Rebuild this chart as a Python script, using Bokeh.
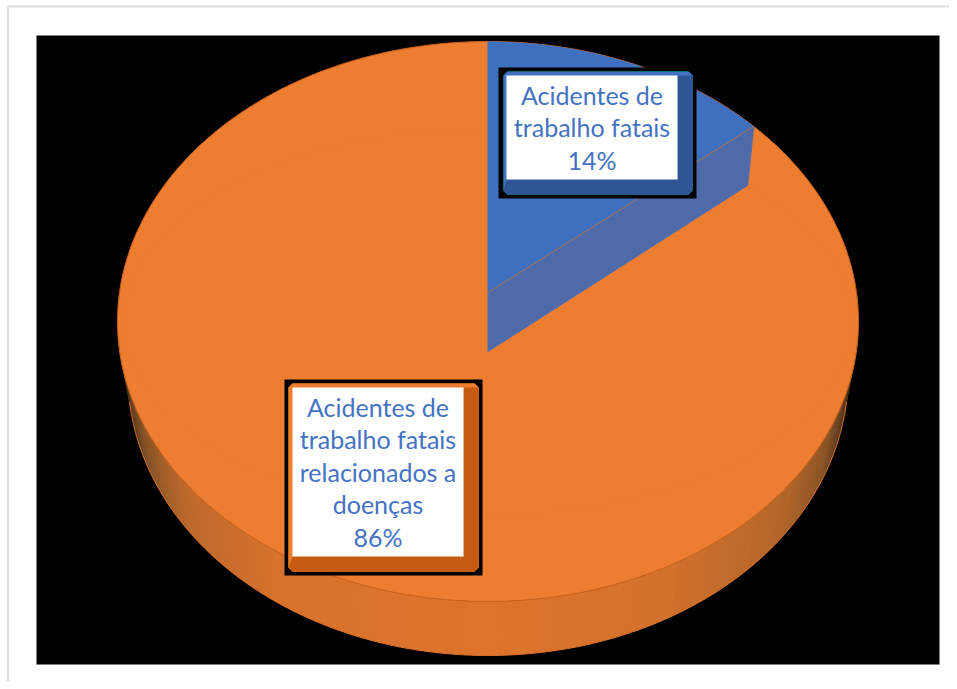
import numpy as np
from bokeh.plotting import figure
from bokeh.models import Range1d
from bokeh.core.properties import value
from bokeh.embed import file_html
from bokeh.resources import INLINE

# ---- data ----
categories = ["Acidentes de trabalho fatais", "Acidentes de trabalho fatais relacionados a doenças"]
values = [14, 86]
label_lines = [["Acidentes de", "trabalho fatais"],
               ["Acidentes de", "trabalho fatais", "relacionados a", "doenças"]]

# ---- layout (picture pixels) ----
W, H = 949, 681
OX, OY = 0, 0
CX, CY, RX, RY = 487.5, 321.0, 370.5, 280.0
BCY, BRX, BRY = 375.0, 360.0, 280.0
APEX_UP = 29.0
WALL = 59.0
FONT = "Lato"
FS = "25px"
LINE = 32.4
ORANGE, BLUE = "#ed7d31", "#4472c4"

p = figure(width=W, height=H, output_backend="svg", toolbar_location=None,
           x_range=Range1d(OX, OX + W), y_range=Range1d(OY + H, OY),
           min_border=0, outline_line_color=None, background_fill_color="white",
           border_fill_color="white")
p.axis.visible = False
p.grid.visible = False

# page border and black background
p.line([7.5, 7.5], [OY + H, 6], line_color="#dddddd", line_width=2)
p.line([7, OX + W], [6, 6], line_color="#dddddd", line_width=2)
p.quad(left=36, right=939, top=35, bottom=664, fill_color="black", line_color=None)

# side band of the pie, shaded by angle
ts = np.linspace(np.pi * 0.03, np.pi * 0.97, 111)  # 0 = right, pi = left, going below
step = ts[1] - ts[0]
stops_t = np.array([.03, .08, .13, .2, .33, .5, .7, .81, .89, .93, .97]) * np.pi
stops_c = np.array([[70, 48, 25], [90, 58, 30], [140, 85, 38], [178, 102, 42], [208, 113, 44], [224, 117, 45],
                    [214, 114, 44], [188, 105, 44], [130, 82, 38], [90, 60, 30], [70, 48, 25]])
for a in ts[:-1]:
    b = min(a + step * 1.6, ts[-1])  # overlap so that no seams show
    m = a + step / 2
    c = "#%02x%02x%02x" % tuple(int(np.interp(m, stops_t, stops_c[:, i])) for i in range(3))
    xs = [CX + RX * np.cos(a), CX + RX * np.cos(b), CX + BRX * np.cos(b), CX + BRX * np.cos(a)]
    ys = [CY + RY * np.sin(a), CY + RY * np.sin(b), BCY + BRY * np.sin(b), BCY + BRY * np.sin(a)]
    p.patch(xs, ys, fill_color=c, line_color=None)
rim = np.linspace(np.pi * 0.03, np.pi * 0.97, 181)
p.line(CX + BRX * np.cos(rim), BCY + BRY * np.sin(rim), line_color="#d9702a", line_width=1)

# orange top face
tt = np.linspace(0, 2 * np.pi, 361)
p.patch(CX + RX * np.cos(tt), CY + RY * np.sin(tt), fill_color=ORANGE, line_color="#c9611c", line_width=1)
# faint inner ring
p.line(CX + RX * .982 * np.cos(tt), CY + 193 * np.sin(tt), line_color="#ea7b30", line_width=1)

# blue slice: angle from the share of the total; apex lifted (exploded slice)
share = values[0] / sum(values)
th = 2 * np.pi * share
off = APEX_UP / RY
s_end = -off * np.cos(th) + np.sqrt((off * np.cos(th)) ** 2 + 1 - off ** 2)
ux, uy = s_end * np.sin(th), -off - s_end * np.cos(th)
end_t = np.arctan2(ux, -uy)
arc = np.linspace(0, end_t, 60)
ax = CX + RX * np.sin(arc)
ay = CY - RY * np.cos(arc)
apex_x, apex_y = CX, CY - APEX_UP
end_x, end_y = ax[-1], ay[-1]

# inner wall
p.patch([apex_x, end_x, end_x - 6, apex_x], [apex_y, end_y, end_y + WALL, apex_y + WALL],
        fill_color="#4f6aa8", line_color="#4a70b8", line_width=1)
# top of slice
p.patch(np.r_[apex_x, ax], np.r_[apex_y, ay], fill_color="#3f70c0", line_color=None)
p.line([apex_x, end_x], [apex_y, end_y], line_color="#a8734e", line_width=1)
p.line([apex_x, apex_x], [apex_y, CY - RY], line_color="#3f70c0", line_width=1)


def chamfer(l, r, t, b, c):
    return [l + c, r - c, r, r, r - c, l + c, l, l], [t, t, t + c, b - c, b, b, b - c, t + c]


def label_box(blk, bev, wht, face, dark, edge):
    p.quad(left=blk[0], right=blk[1], top=blk[2], bottom=blk[3], fill_color="black", line_color=None)
    xs, ys = chamfer(bev[0], bev[1], bev[2], bev[3], 4)
    p.patch(xs, ys, fill_color=face, line_color=edge, line_width=1)
    p.patch([wht[1], bev[1], bev[1], bev[1] - 4, bev[0] + 4, bev[0], wht[0], wht[1]],
            [wht[2], bev[2] + 4, bev[3] - 4, bev[3], bev[3], bev[3] - 4, wht[3], wht[3]],
            fill_color=dark, line_color=None)
    p.quad(left=wht[0], right=wht[1], top=wht[2], bottom=wht[3], fill_color="white", line_color=None)


label_box((498, 696, 67, 198), (503, 692, 71, 194), (506, 677, 75, 179), BLUE, "#2f5597", "#0d6e7a")
label_box((284, 482, 379, 575), (288, 478, 383, 571), (292, 463, 387, 556), "#ed7d31", "#c55a11", "#c06a10")

tops = [94.5, 406.5]
cxs = [591.5, 377.5]
for i in range(2):
    lines = label_lines[i] + ["%d%%" % values[i]]
    ys = [tops[i] + k * LINE for k in range(len(lines))]
    p.text(x=[cxs[i]] * len(lines), y=ys, text=lines, text_font=value(FONT), text_font_size=value(FS),
           text_color=BLUE, text_align="center", text_baseline="middle")

open("out.html", "w").write(file_html(p, INLINE))
